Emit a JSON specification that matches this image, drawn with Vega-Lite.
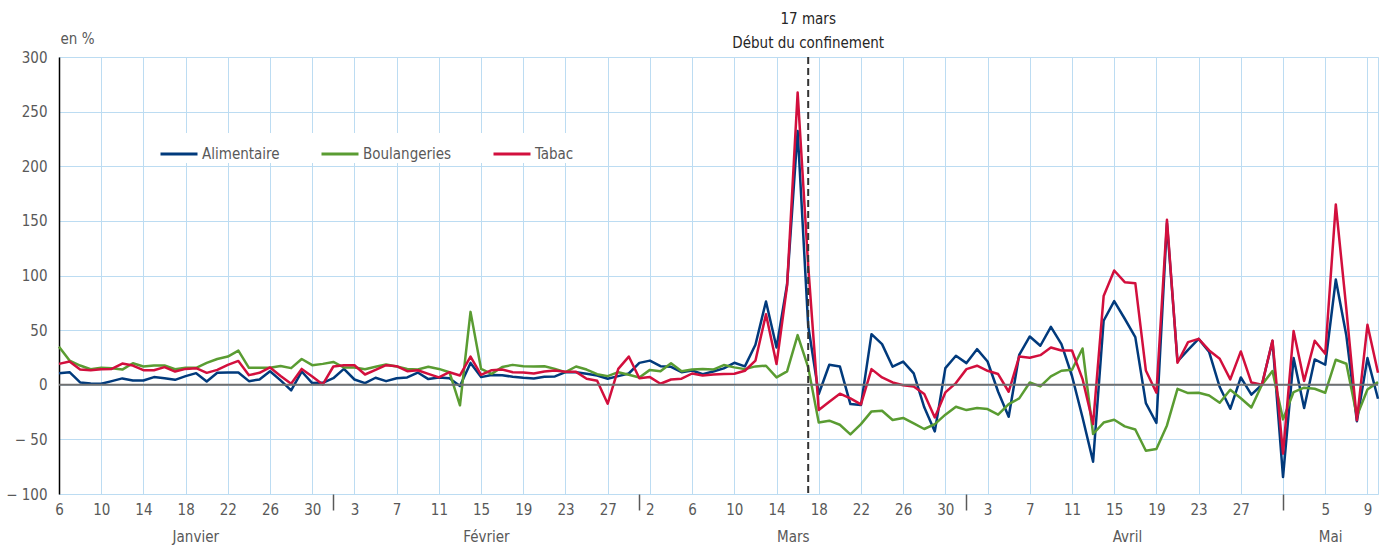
{
  "$schema": "https://vega.github.io/schema/vega-lite/v6.json",
  "width": 1319,
  "height": 437,
  "autosize": {"type": "none"},
  "padding": {"left": 59, "top": 57, "right": 3, "bottom": 52},
  "config": {
    "font": "Liberation Sans Narrow, DejaVu Sans Condensed, Arial Narrow, sans-serif",
    "view": {"stroke": "#bcdcf2", "strokeWidth": 1},
    "axis": {"labelFontSize": 15, "labelColor": "#595959", "titleColor": "#595959", "titleFontWeight": "normal", "titleFontSize": 15, "gridColor": "#bcdcf2", "gridWidth": 1, "gridOpacity": 1}
  },
  "resolve": {"axis": {"x": "independent"}},
  "layer": [
    {
      "data": {"values": [
        {"date":"2020-01-06","Alimentaire":10.6,"Boulangeries":34.8,"Tabac":19.1},
        {"date":"2020-01-07","Alimentaire":11.5,"Boulangeries":22.1,"Tabac":21.2},
        {"date":"2020-01-08","Alimentaire":2.1,"Boulangeries":17.6,"Tabac":13.9},
        {"date":"2020-01-09","Alimentaire":1.2,"Boulangeries":14.2,"Tabac":13.3},
        {"date":"2020-01-10","Alimentaire":0.9,"Boulangeries":15.5,"Tabac":14.2},
        {"date":"2020-01-11","Alimentaire":3.3,"Boulangeries":15.2,"Tabac":14.5},
        {"date":"2020-01-12","Alimentaire":5.8,"Boulangeries":13.9,"Tabac":19.4},
        {"date":"2020-01-13","Alimentaire":3.9,"Boulangeries":19.7,"Tabac":17.6},
        {"date":"2020-01-14","Alimentaire":3.9,"Boulangeries":16.7,"Tabac":13.3},
        {"date":"2020-01-15","Alimentaire":7,"Boulangeries":17.6,"Tabac":13.3},
        {"date":"2020-01-16","Alimentaire":6,"Boulangeries":17.6,"Tabac":16.1},
        {"date":"2020-01-17","Alimentaire":4.5,"Boulangeries":14.2,"Tabac":12.1},
        {"date":"2020-01-18","Alimentaire":7.9,"Boulangeries":15.5,"Tabac":14.5},
        {"date":"2020-01-19","Alimentaire":10.6,"Boulangeries":15.5,"Tabac":15.2},
        {"date":"2020-01-20","Alimentaire":3,"Boulangeries":20,"Tabac":10.9},
        {"date":"2020-01-21","Alimentaire":10.9,"Boulangeries":23.6,"Tabac":13.6},
        {"date":"2020-01-22","Alimentaire":11.2,"Boulangeries":25.8,"Tabac":18.2},
        {"date":"2020-01-23","Alimentaire":11.2,"Boulangeries":31.2,"Tabac":21.8},
        {"date":"2020-01-24","Alimentaire":3.3,"Boulangeries":15.5,"Tabac":8.8},
        {"date":"2020-01-25","Alimentaire":4.8,"Boulangeries":15.5,"Tabac":10.9},
        {"date":"2020-01-26","Alimentaire":12.4,"Boulangeries":15.5,"Tabac":15.8},
        {"date":"2020-01-27","Alimentaire":4,"Boulangeries":17.2,"Tabac":8},
        {"date":"2020-01-28","Alimentaire":-5.2,"Boulangeries":15.2,"Tabac":0.9},
        {"date":"2020-01-29","Alimentaire":12.1,"Boulangeries":23.6,"Tabac":14.5},
        {"date":"2020-01-30","Alimentaire":1.5,"Boulangeries":17.9,"Tabac":7.6},
        {"date":"2020-01-31","Alimentaire":1.8,"Boulangeries":19.1,"Tabac":0.3},
        {"date":"2020-02-01","Alimentaire":6,"Boulangeries":20.9,"Tabac":16.7},
        {"date":"2020-02-02","Alimentaire":14.5,"Boulangeries":15.8,"Tabac":17.9},
        {"date":"2020-02-03","Alimentaire":4.8,"Boulangeries":15.8,"Tabac":17.9},
        {"date":"2020-02-04","Alimentaire":1.5,"Boulangeries":14.2,"Tabac":9.4},
        {"date":"2020-02-05","Alimentaire":6.4,"Boulangeries":16.4,"Tabac":13.6},
        {"date":"2020-02-06","Alimentaire":3.3,"Boulangeries":18.5,"Tabac":17.9},
        {"date":"2020-02-07","Alimentaire":6,"Boulangeries":16.7,"Tabac":17},
        {"date":"2020-02-08","Alimentaire":6.7,"Boulangeries":14.5,"Tabac":12.4},
        {"date":"2020-02-09","Alimentaire":11.2,"Boulangeries":13.9,"Tabac":13.3},
        {"date":"2020-02-10","Alimentaire":5.2,"Boulangeries":16.4,"Tabac":10},
        {"date":"2020-02-11","Alimentaire":6.7,"Boulangeries":14.5,"Tabac":6.7},
        {"date":"2020-02-12","Alimentaire":6,"Boulangeries":11.5,"Tabac":11.5},
        {"date":"2020-02-13","Alimentaire":-1.2,"Boulangeries":-18.8,"Tabac":8.5},
        {"date":"2020-02-14","Alimentaire":20,"Boulangeries":66.7,"Tabac":25.8},
        {"date":"2020-02-15","Alimentaire":7,"Boulangeries":14.5,"Tabac":9.1},
        {"date":"2020-02-16","Alimentaire":9,"Boulangeries":10,"Tabac":13.3},
        {"date":"2020-02-17","Alimentaire":8.7,"Boulangeries":16.2,"Tabac":13.9},
        {"date":"2020-02-18","Alimentaire":7.3,"Boulangeries":18.2,"Tabac":11.5},
        {"date":"2020-02-19","Alimentaire":6.4,"Boulangeries":17,"Tabac":11.2},
        {"date":"2020-02-20","Alimentaire":5.8,"Boulangeries":16.7,"Tabac":10.3},
        {"date":"2020-02-21","Alimentaire":7.3,"Boulangeries":17,"Tabac":12.1},
        {"date":"2020-02-22","Alimentaire":7.6,"Boulangeries":14.5,"Tabac":13},
        {"date":"2020-02-23","Alimentaire":11.5,"Boulangeries":11.5,"Tabac":11.8},
        {"date":"2020-02-24","Alimentaire":11.5,"Boulangeries":16.7,"Tabac":11.8},
        {"date":"2020-02-25","Alimentaire":10,"Boulangeries":13.9,"Tabac":5.5},
        {"date":"2020-02-26","Alimentaire":8.5,"Boulangeries":9.7,"Tabac":3.6},
        {"date":"2020-02-27","Alimentaire":5.5,"Boulangeries":7.9,"Tabac":-17.3},
        {"date":"2020-02-28","Alimentaire":7.9,"Boulangeries":11.5,"Tabac":14.5},
        {"date":"2020-02-29","Alimentaire":10.3,"Boulangeries":9.1,"Tabac":25.8},
        {"date":"2020-03-01","Alimentaire":20,"Boulangeries":6.7,"Tabac":6},
        {"date":"2020-03-02","Alimentaire":22.1,"Boulangeries":13.6,"Tabac":7},
        {"date":"2020-03-03","Alimentaire":17,"Boulangeries":12.4,"Tabac":0.9},
        {"date":"2020-03-04","Alimentaire":16.4,"Boulangeries":19.7,"Tabac":4.8},
        {"date":"2020-03-05","Alimentaire":11.5,"Boulangeries":12.4,"Tabac":5.5},
        {"date":"2020-03-06","Alimentaire":13,"Boulangeries":13.9,"Tabac":10.3},
        {"date":"2020-03-07","Alimentaire":9.7,"Boulangeries":14.5,"Tabac":8.5},
        {"date":"2020-03-08","Alimentaire":12.1,"Boulangeries":13.9,"Tabac":9.4},
        {"date":"2020-03-09","Alimentaire":15,"Boulangeries":18,"Tabac":9.8},
        {"date":"2020-03-10","Alimentaire":20.1,"Boulangeries":15.9,"Tabac":10},
        {"date":"2020-03-11","Alimentaire":16.8,"Boulangeries":14.3,"Tabac":12.8},
        {"date":"2020-03-12","Alimentaire":36.6,"Boulangeries":16.8,"Tabac":22},
        {"date":"2020-03-13","Alimentaire":76.2,"Boulangeries":17.4,"Tabac":64.6},
        {"date":"2020-03-14","Alimentaire":34.1,"Boulangeries":6.7,"Tabac":18.9},
        {"date":"2020-03-15","Alimentaire":92,"Boulangeries":12.2,"Tabac":90.5},
        {"date":"2020-03-16","Alimentaire":232.3,"Boulangeries":45.4,"Tabac":267.4},
        {"date":"2020-03-17","Alimentaire":54,"Boulangeries":15.9,"Tabac":109},
        {"date":"2020-03-18","Alimentaire":-8.5,"Boulangeries":-34.5,"Tabac":-23.2},
        {"date":"2020-03-19","Alimentaire":18.3,"Boulangeries":-32.9,"Tabac":-15.5},
        {"date":"2020-03-20","Alimentaire":16.8,"Boulangeries":-36.6,"Tabac":-8.2},
        {"date":"2020-03-21","Alimentaire":-17.7,"Boulangeries":-45.4,"Tabac":-12.5},
        {"date":"2020-03-22","Alimentaire":-18.6,"Boulangeries":-36,"Tabac":-18},
        {"date":"2020-03-23","Alimentaire":46.3,"Boulangeries":-24.4,"Tabac":14.3},
        {"date":"2020-03-24","Alimentaire":37.2,"Boulangeries":-23.8,"Tabac":6.7},
        {"date":"2020-03-25","Alimentaire":16.5,"Boulangeries":-32.3,"Tabac":2.1},
        {"date":"2020-03-26","Alimentaire":21.2,"Boulangeries":-30.4,"Tabac":-0.5},
        {"date":"2020-03-27","Alimentaire":10.4,"Boulangeries":-35.4,"Tabac":-1.5},
        {"date":"2020-03-28","Alimentaire":-20.7,"Boulangeries":-40.5,"Tabac":-8.5},
        {"date":"2020-03-29","Alimentaire":-42.7,"Boulangeries":-36,"Tabac":-29.9},
        {"date":"2020-03-30","Alimentaire":15.2,"Boulangeries":-27.4,"Tabac":-7},
        {"date":"2020-03-31","Alimentaire":26.5,"Boulangeries":-20.1,"Tabac":1.5},
        {"date":"2020-04-01","Alimentaire":19.8,"Boulangeries":-23.2,"Tabac":14.3},
        {"date":"2020-04-02","Alimentaire":32.6,"Boulangeries":-21.3,"Tabac":17.4},
        {"date":"2020-04-03","Alimentaire":21.3,"Boulangeries":-22.3,"Tabac":12.8},
        {"date":"2020-04-04","Alimentaire":-6.4,"Boulangeries":-27.4,"Tabac":9.8},
        {"date":"2020-04-05","Alimentaire":-29.3,"Boulangeries":-17.7,"Tabac":-6.4},
        {"date":"2020-04-06","Alimentaire":27.4,"Boulangeries":-12.5,"Tabac":25.9},
        {"date":"2020-04-07","Alimentaire":44.2,"Boulangeries":2.1,"Tabac":24.7},
        {"date":"2020-04-08","Alimentaire":35.7,"Boulangeries":-1.5,"Tabac":27.1},
        {"date":"2020-04-09","Alimentaire":53,"Boulangeries":7.6,"Tabac":34.1},
        {"date":"2020-04-10","Alimentaire":37.2,"Boulangeries":12.8,"Tabac":31.4},
        {"date":"2020-04-11","Alimentaire":8,"Boulangeries":13.7,"Tabac":31.4},
        {"date":"2020-04-12","Alimentaire":-30,"Boulangeries":33.2,"Tabac":5.2},
        {"date":"2020-04-13","Alimentaire":-70.4,"Boulangeries":-45.1,"Tabac":-36},
        {"date":"2020-04-14","Alimentaire":58.6,"Boulangeries":-34.6,"Tabac":81.2},
        {"date":"2020-04-15","Alimentaire":76.5,"Boulangeries":-32,"Tabac":104.6},
        {"date":"2020-04-16","Alimentaire":60.4,"Boulangeries":-38.1,"Tabac":93.9},
        {"date":"2020-04-17","Alimentaire":43.6,"Boulangeries":-40.9,"Tabac":93},
        {"date":"2020-04-18","Alimentaire":-16.8,"Boulangeries":-60.4,"Tabac":13.1},
        {"date":"2020-04-19","Alimentaire":-35,"Boulangeries":-58.8,"Tabac":-7.3},
        {"date":"2020-04-20","Alimentaire":148,"Boulangeries":-37.2,"Tabac":151},
        {"date":"2020-04-21","Alimentaire":21.3,"Boulangeries":-3.7,"Tabac":20.1},
        {"date":"2020-04-22","Alimentaire":32,"Boulangeries":-7.6,"Tabac":39},
        {"date":"2020-04-23","Alimentaire":42,"Boulangeries":-7.3,"Tabac":42},
        {"date":"2020-04-24","Alimentaire":29.9,"Boulangeries":-9.8,"Tabac":31.4},
        {"date":"2020-04-25","Alimentaire":-2.1,"Boulangeries":-16.5,"Tabac":23.8},
        {"date":"2020-04-26","Alimentaire":-22,"Boulangeries":-4.6,"Tabac":4.9},
        {"date":"2020-04-27","Alimentaire":6.7,"Boulangeries":-12.4,"Tabac":30.5},
        {"date":"2020-04-28","Alimentaire":-9,"Boulangeries":-20.8,"Tabac":2},
        {"date":"2020-04-29","Alimentaire":0,"Boulangeries":0,"Tabac":0},
        {"date":"2020-04-30","Alimentaire":40,"Boulangeries":12.5,"Tabac":40.5},
        {"date":"2020-05-01","Alimentaire":-84.5,"Boulangeries":-31.7,"Tabac":-63.1},
        {"date":"2020-05-02","Alimentaire":24.4,"Boulangeries":-6.7,"Tabac":49.1},
        {"date":"2020-05-03","Alimentaire":-21.3,"Boulangeries":-2.7,"Tabac":3.4},
        {"date":"2020-05-04","Alimentaire":23.2,"Boulangeries":-3.7,"Tabac":40.2},
        {"date":"2020-05-05","Alimentaire":18.3,"Boulangeries":-7.3,"Tabac":28.4},
        {"date":"2020-05-06","Alimentaire":96.3,"Boulangeries":22.9,"Tabac":165},
        {"date":"2020-05-07","Alimentaire":45,"Boulangeries":19.2,"Tabac":69.5},
        {"date":"2020-05-08","Alimentaire":-33.5,"Boulangeries":-28.7,"Tabac":-32.6},
        {"date":"2020-05-09","Alimentaire":24.4,"Boulangeries":-4.3,"Tabac":54.9},
        {"date":"2020-05-10","Alimentaire":-12.8,"Boulangeries":2.4,"Tabac":11}
      ]},
      "transform": [{"fold": ["Alimentaire", "Boulangeries", "Tabac"], "as": ["serie", "valeur"]}],
      "mark": {"type": "line", "strokeWidth": 2.5, "strokeJoin": "round"},
      "encoding": {
        "x": {
          "field": "date", "type": "temporal",
          "scale": {"type": "utc", "domain": [{"year": 2020, "month": 1, "date": 6, "utc": true}, {"year": 2020, "month": 5, "date": 10, "utc": true}], "nice": false},
          "axis": {
            "orient": "bottom", "title": null, "domain": false, "ticks": false, "grid": true, "labelPadding": 8,
            "labelExpr": "utcmonth(datum.value) == 4 && utcdate(datum.value) == 1 ? '' : utcFormat(datum.value, '%-d')",
            "labelFlush": false, "labelOverlap": false,
            "values": [
              {"year": 2020, "month": 1, "date": 6, "utc": true}, {"year": 2020, "month": 1, "date": 10, "utc": true}, {"year": 2020, "month": 1, "date": 14, "utc": true}, {"year": 2020, "month": 1, "date": 18, "utc": true}, {"year": 2020, "month": 1, "date": 22, "utc": true}, {"year": 2020, "month": 1, "date": 26, "utc": true}, {"year": 2020, "month": 1, "date": 30, "utc": true},
              {"year": 2020, "month": 2, "date": 3, "utc": true}, {"year": 2020, "month": 2, "date": 7, "utc": true}, {"year": 2020, "month": 2, "date": 11, "utc": true}, {"year": 2020, "month": 2, "date": 15, "utc": true}, {"year": 2020, "month": 2, "date": 19, "utc": true}, {"year": 2020, "month": 2, "date": 23, "utc": true}, {"year": 2020, "month": 2, "date": 27, "utc": true},
              {"year": 2020, "month": 3, "date": 2, "utc": true}, {"year": 2020, "month": 3, "date": 6, "utc": true}, {"year": 2020, "month": 3, "date": 10, "utc": true}, {"year": 2020, "month": 3, "date": 14, "utc": true}, {"year": 2020, "month": 3, "date": 18, "utc": true}, {"year": 2020, "month": 3, "date": 22, "utc": true}, {"year": 2020, "month": 3, "date": 26, "utc": true}, {"year": 2020, "month": 3, "date": 30, "utc": true},
              {"year": 2020, "month": 4, "date": 3, "utc": true}, {"year": 2020, "month": 4, "date": 7, "utc": true}, {"year": 2020, "month": 4, "date": 11, "utc": true}, {"year": 2020, "month": 4, "date": 15, "utc": true}, {"year": 2020, "month": 4, "date": 19, "utc": true}, {"year": 2020, "month": 4, "date": 23, "utc": true}, {"year": 2020, "month": 4, "date": 27, "utc": true},
              {"year": 2020, "month": 5, "date": 1, "utc": true}, {"year": 2020, "month": 5, "date": 5, "utc": true}, {"year": 2020, "month": 5, "date": 9, "utc": true}
            ]
          }
        },
        "y": {
          "field": "valeur", "type": "quantitative",
          "scale": {"domain": [-100, 300], "nice": false, "zero": false},
          "axis": {
            "title": "en %", "titleAngle": 0, "titleAlign": "left", "titleBaseline": "middle", "titleX": 1, "titleY": -19,
            "values": [-100, -50, 0, 50, 100, 150, 200, 250, 300],
            "labelExpr": "datum.value < 0 ? '\u2212 ' + abs(datum.value) : datum.label",
            "ticks": false, "labelPadding": 12, "domain": true, "domainColor": "#000000", "domainWidth": 1.5, "grid": true
          }
        },
        "color": {
          "field": "serie", "type": "nominal",
          "scale": {"domain": ["Alimentaire", "Boulangeries", "Tabac"], "range": ["#013a7c", "#5a9c32", "#d20f3d"]},
          "legend": {
            "title": null, "orient": "none", "legendX": 99, "legendY": 76, "direction": "horizontal",
            "fillColor": "#ffffff", "padding": 1, "symbolType": "stroke", "symbolSize": 1369, "symbolStrokeWidth": 3,
            "labelFontSize": 15, "labelColor": "#595959", "labelOffset": 3, "columnPadding": 35
          }
        }
      }
    },
    {
      "data": {"values": [{"valeur": 0}]},
      "mark": {"type": "rule", "color": "#707070", "strokeWidth": 2},
      "encoding": {"y": {"field": "valeur", "type": "quantitative"}}
    },
    {
      "data": {"values": [{"date": "2020-03-17"}]},
      "mark": {"type": "rule", "color": "#333333", "strokeWidth": 2, "strokeDash": [7, 4]},
      "encoding": {
        "x": {
          "field": "date", "type": "temporal",
          "axis": {
            "orient": "bottom", "title": null, "domain": false, "ticks": false, "grid": false, "labelPadding": 35,
            "labelExpr": "['Janvier', 'Février', 'Mars', 'Avril', 'Mai'][utcmonth(datum.value)]",
            "labelFlush": false, "labelOverlap": false,
            "values": [
              {"year": 2020, "month": 1, "date": 18, "hours": 22, "utc": true},
              {"year": 2020, "month": 2, "date": 15, "hours": 11, "utc": true},
              {"year": 2020, "month": 3, "date": 15, "hours": 13, "utc": true},
              {"year": 2020, "month": 4, "date": 16, "hours": 5, "utc": true},
              {"year": 2020, "month": 5, "date": 5, "hours": 11, "utc": true}
            ]
          }
        }
      }
    },
    {
      "data": {"values": [{"date": "2020-03-17", "valeur": 300, "label": ["17 mars", "Début du confinement"]}]},
      "mark": {"type": "text", "fontSize": 15, "color": "#262626", "baseline": "bottom", "lineHeight": 24, "dy": -30},
      "encoding": {
        "x": {
          "field": "date", "type": "temporal",
          "axis": {
            "orient": "bottom", "title": null, "domain": false, "grid": false, "labels": false, "ticks": true, "tickSize": 16, "tickColor": "#595959", "tickWidth": 1.5,
            "values": [
              {"year": 2020, "month": 2, "date": 1, "utc": true},
              {"year": 2020, "month": 3, "date": 1, "utc": true},
              {"year": 2020, "month": 4, "date": 1, "utc": true},
              {"year": 2020, "month": 5, "date": 1, "utc": true}
            ]
          }
        },
        "y": {"field": "valeur", "type": "quantitative"},
        "text": {"field": "label"}
      }
    }
  ]
}
